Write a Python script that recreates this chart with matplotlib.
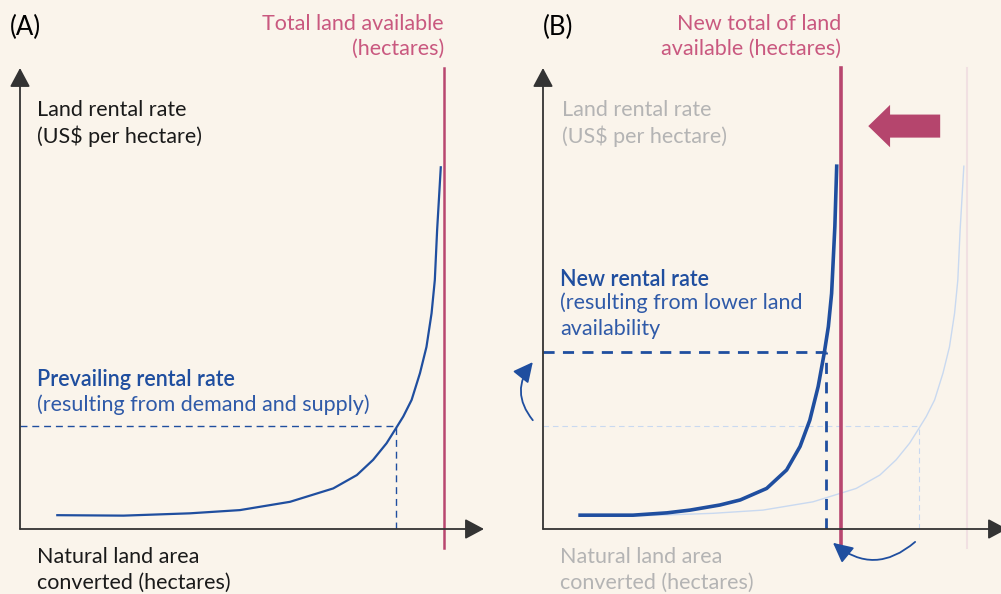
import matplotlib
matplotlib.use("Agg")
import matplotlib.pyplot as plt
from matplotlib.patches import FancyArrow

# --- data (conceptual units: land area 0-100, rental rate 0-100) ---
# supply curve, panel A (and faded copy in panel B)
land_a = [7.8, 22.3, 36.6, 47.4, 58.2, 67.5, 72.6, 76.1, 79.0, 81.0, 82.6, 84.4,
          86.2, 87.6, 88.7, 89.4, 89.9, 90.7]
rate_a = [3.0, 2.9, 3.4, 4.1, 5.9, 8.8, 11.7, 15.0, 18.6, 21.8, 24.4, 28.0,
          33.8, 39.5, 46.8, 54.0, 64.9, 78.7]
# supply curve after land availability falls, panel B
land_b = [8.0, 19.4, 26.7, 31.7, 38.1, 42.5, 48.2, 52.5, 55.4, 57.5, 59.3, 60.6, 61.5,
          62.2, 62.9, 63.3]
rate_b = [3.0, 3.0, 3.5, 4.1, 5.2, 6.3, 8.8, 12.8, 17.9, 23.6, 30.9, 38.1, 43.9,
          51.1, 65.6, 78.7]

total_land_old = 91.4
total_land_new = 64.2
eq_old = (81.1, 22.3)
eq_new = (61.0, 38.4)

bg = "#faf4eb"
pink = "#b8466f"
pink_txt = "#c9587f"
blue = "#1f4e9f"
blue_txt = "#2f5aa8"
faint_blue = "#c9d9f0"
grey_txt = "#b4b4b4"
axis_col = "#333333"

plt.rcParams["font.family"] = ["Lato", "DejaVu Sans"]
fs = 15.5
ls_txt = 1.35

fig = plt.figure(figsize=(10.01, 5.94), dpi=100, facecolor=bg)
axA = fig.add_axes([20 / 1001, 65 / 594, 464 / 1001, 461 / 594])
axB = fig.add_axes([543 / 1001, 65 / 594, 464 / 1001, 461 / 594])


def setup(ax):
    ax.set_xlim(0, 100)
    ax.set_ylim(0, 100)
    ax.set_facecolor("none")
    ax.axis("off")
    for xy in [(0, 100), (100, 0)]:
        ax.annotate("", xy=xy, xytext=(0, 0), annotation_clip=False,
                    arrowprops=dict(arrowstyle="-|>,head_length=0.58,head_width=0.31",
                                    mutation_scale=20, color=axis_col, lw=1.3,
                                    shrinkA=0, shrinkB=0))


setup(axA)
setup(axB)

# ---- panel A ----
axA.plot([total_land_old, total_land_old], [-4.1, 100], color=pink, lw=1.8, clip_on=False)
axA.plot(land_a, rate_a, color=blue, lw=1.6, solid_capstyle="butt", solid_joinstyle="round")
axA.plot([0, eq_old[0]], [eq_old[1], eq_old[1]], color=blue, lw=1.0, ls=(0, (5, 3.5)))
axA.plot([eq_old[0], eq_old[0]], [0, eq_old[1]], color=blue, lw=1.0, ls=(0, (5, 3.5)))

axA.text(-2.2, 108.7, "(A)", fontsize=18.5, va="center", ha="left", color="black", clip_on=False)
axA.text(total_land_old, 111.8, "Total land available\n(hectares)", fontsize=fs, color=pink_txt,
         ha="right", va="top", linespacing=ls_txt)
axA.text(3.7, 93.1, "Land rental rate\n(US$ per hectare)", fontsize=fs, color="#1a1a1a",
         ha="left", va="top", linespacing=ls_txt)
axA.text(3.7, 32.5, "Prevailing rental rate", fontsize=fs, color=blue,
         ha="left", va="center", fontweight="semibold")
axA.text(3.7, 26.9, "(resulting from demand and supply)", fontsize=fs, color=blue_txt,
         ha="left", va="center")
axA.text(3.7, -4.0, "Natural land area\nconverted (hectares)", fontsize=fs, color="#1a1a1a",
         ha="left", va="top", linespacing=ls_txt)

# ---- panel B ----
axB.plot([total_land_old, total_land_old], [-4.1, 100], color="#f1e0e2", lw=1.5, clip_on=False)
axB.plot(land_a, rate_a, color=faint_blue, lw=1.0, solid_joinstyle="round")
axB.plot([0, eq_old[0]], [eq_old[1], eq_old[1]], color=faint_blue, lw=0.8, ls=(0, (5, 3.5)))
axB.plot([eq_old[0], eq_old[0]], [0, eq_old[1]], color=faint_blue, lw=0.8, ls=(0, (5, 3.5)))

axB.plot([total_land_new, total_land_new], [-4.1, 100], color=pink, lw=2.6, clip_on=False)
axB.plot(land_b, rate_b, color=blue, lw=2.6, solid_joinstyle="round")
axB.plot([0, eq_new[0]], [eq_new[1], eq_new[1]], color=blue, lw=2.0, ls=(0, (4, 3)))
axB.plot([eq_new[0], eq_new[0]], [0, eq_new[1]], color=blue, lw=2.0, ls=(0, (4, 3)))

# big arrow showing the shift of total land
axB.add_patch(FancyArrow(85.6, 87.4, -15.5, 0, width=5.0, head_width=9.2, head_length=4.7,
                         length_includes_head=True, color="#b5456d", lw=0))

# curved arrows
axB.annotate("", xy=(-2.2, 36.2), xytext=(-2.2, 23.6), annotation_clip=False,
             arrowprops=dict(arrowstyle="-|>,head_length=0.6,head_width=0.3", mutation_scale=20,
                             color=blue, lw=1.3, shrinkA=0, shrinkB=0,
                             connectionstyle="arc3,rad=-0.4"))
axB.annotate("", xy=(62.5, -3.0), xytext=(80.2, -2.8), annotation_clip=False,
             arrowprops=dict(arrowstyle="-|>,head_length=0.6,head_width=0.3", mutation_scale=20,
                             color=blue, lw=1.3, shrinkA=0, shrinkB=0,
                             connectionstyle="arc3,rad=-0.42"))

axB.text(0.0, 108.7, "(B)", fontsize=18.5, va="center", ha="left", color="black", clip_on=False)
axB.text(total_land_new, 111.8, "New total of land\navailable (hectares)", fontsize=fs, color=pink_txt,
         ha="right", va="top", linespacing=ls_txt)
axB.text(4.1, 93.1, "Land rental rate\n(US$ per hectare)", fontsize=fs, color=grey_txt,
         ha="left", va="top", linespacing=ls_txt)
axB.text(3.7, 54.2, "New rental rate", fontsize=fs, color=blue,
         ha="left", va="center", fontweight="semibold")
axB.text(3.7, 51.3, "(resulting from lower land\navailability", fontsize=fs, color=blue_txt,
         ha="left", va="top", linespacing=ls_txt)
axB.text(3.7, -4.0, "Natural land area\nconverted (hectares)", fontsize=fs, color=grey_txt,
         ha="left", va="top", linespacing=ls_txt)

fig.savefig("out.png", dpi=100, facecolor=bg)
